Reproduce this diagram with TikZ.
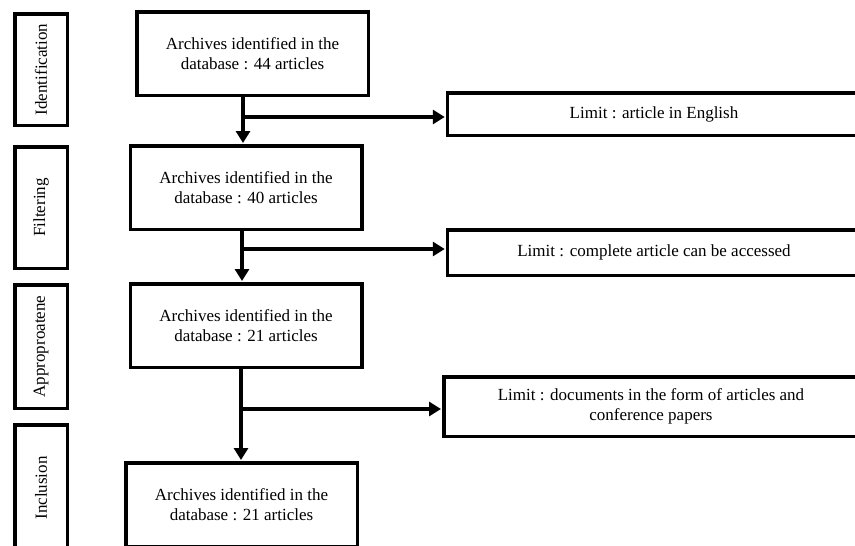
\documentclass[tikz,border=0pt]{standalone}
\usepackage{fontspec}
\setmainfont{Liberation Serif}
\usetikzlibrary{arrows.meta}
\def\txtsize{\fontsize{17}{20.5}\selectfont}

\begin{document}
\begin{tikzpicture}[x=1pt, y=-1pt, line width=3.5pt]
  \tikzstyle{stage}=[draw, minimum height=52.5pt, inner sep=0pt, rotate=90, font=\txtsize]
  \tikzstyle{archive}=[draw, minimum width=231.5pt, minimum height=83.5pt, align=center, font=\txtsize]
  \tikzstyle{limit}=[draw, minimum width=413pt, align=center, font=\txtsize]
  \tikzstyle{arr}=[line width=4.2pt, -{Triangle[length=12pt, width=14pt]}, shorten >=1pt]

  \clip (0,0) rectangle (855,546);

  % Draw the stage labels on the left
  \node[stage, minimum width=111.5pt] (S-1) at (41,69.5) {Identification};
  \node[stage, minimum width=121.5pt] (S-2) at (41,207.5) {Filtering};
  \node[stage, minimum width=123.5pt] (S-3) at (41,346.5) {Approproatene};
  \node[stage, minimum width=126.5pt] (S-4) at (41,488) {Inclusion};

  % Draw the archive boxes
  \node[archive] (A-1) at (252.5,53.5) {Archives identified in the\\ database : 44 articles};
  \node[archive] (A-2) at (246,187.5) {Archives identified in the\\ database : 40 articles};
  \node[archive] (A-3) at (246,325.5) {Archives identified in the\\ database : 21 articles};
  \node[archive] (A-4) at (241.5,504.5) {Archives identified in the\\ database : 21 articles};

  % Draw the limit boxes
  \node[limit, minimum height=42.5pt] (L-1) at (654,114) {Limit : article in English};
  \node[limit, minimum height=45.5pt] (L-2) at (654,252.5) {Limit : complete article can be accessed};
  \node[limit, minimum height=59.5pt, minimum width=414.5pt] (L-3) at (651,406.5)
    {Limit : documents in the form of articles and\\ conference papers};

  % Branch points
  \coordinate (J-1) at (243,117);
  \coordinate (J-2) at (242,249);
  \coordinate (J-3) at (241,409);

  % Connect archive -> archive and branch -> limit
  \foreach \a / \b in {1/2,2/3,3/4}
    \draw[arr] (A-\a.south -| J-\a) -- (A-\b.north -| J-\a);
  \foreach \j in {1,...,3}
    \draw[arr] (J-\j) -- (J-\j -| L-\j.west);
\end{tikzpicture}
\end{document}
